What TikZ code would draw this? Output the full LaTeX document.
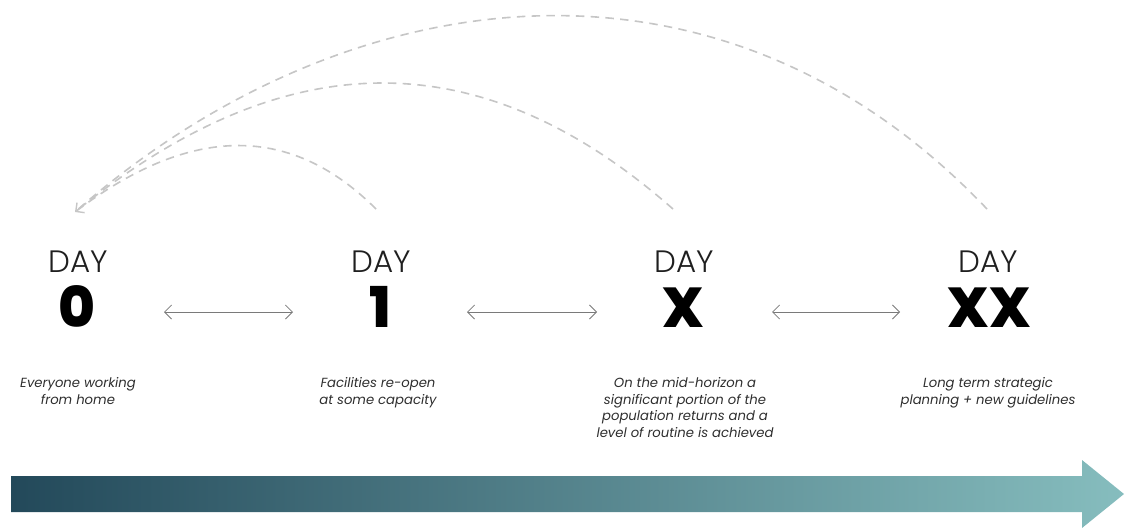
\documentclass[tikz,border=0pt]{standalone}
\usepackage{fontspec}
\setmainfont{Poppins}
\newfontfamily\dayfont{Poppins Light}
\newfontfamily\numfont{Poppins ExtraBold}
\usetikzlibrary{arrows.meta}
\definecolor{arcgray}{HTML}{C6C6C6}
\definecolor{linegray}{HTML}{7A7A7A}
\definecolor{bandL}{HTML}{23495A}
\definecolor{bandR}{HTML}{86BDBE}
\definecolor{desctext}{HTML}{2E2E2E}
\tikzset{
  daylabel/.style={anchor=base, inner sep=0pt, font=\dayfont\fontsize{22}{26}\selectfont, text=black!88},
  daynum/.style={anchor=base, inner sep=0pt, font=\numfont\fontsize{40}{44}\selectfont, text=black},
  desc/.style={anchor=north, inner sep=0pt, align=center, font=\itshape\fontsize{9.4}{11.9}\selectfont, text=desctext},
  returnarc/.style={draw=arcgray, line width=1.15pt, dash pattern=on 6pt off 4.5pt},
  twoway/.style={draw=linegray, line width=0.55pt, {Straight Barb[length=5pt,width=10pt]}-{Straight Barb[length=5pt,width=10pt]}},
}
\begin{document}
\begin{tikzpicture}[x=0.025cm,y=-0.025cm]
\useasboundingbox (0,0) rectangle (1130,527);

% day labels
\node[daylabel] (d0) at (78,272) {DAY};
\node[daylabel] (d1) at (381,272) {DAY};
\node[daylabel] (dx) at (684,272) {DAY};
\node[daylabel] (dxx) at (988,272) {DAY};

\node[daynum] (n0) at (77,327) {0};
\node[daynum] (n1) at (380,327) {1};
\node[daynum] (nx) at (683,327) {X};
\node[daynum] (nxx) at (989,327) {XX};

% descriptions
\node[desc] (t0) at (78,377) {Everyone working\\from home};
\node[desc] (t1) at (378,377) {Facilities re-open\\at some capacity};
\node[desc] (tx) at (685,377) {On the mid-horizon a\\significant portion of the\\population returns and a\\level of routine is achieved};
\node[desc] (txx) at (988,377) {Long term strategic\\planning + new guidelines};

% two-way arrows
\coordinate (a0l) at (164,312); \coordinate (a0r) at (293,312);
\coordinate (a1l) at (467,312); \coordinate (a1r) at (597,312);
\coordinate (a2l) at (772,312); \coordinate (a2r) at (900,312);
\draw[twoway] (a0l) -- (a0r);
\draw[twoway] (a1l) -- (a1r);
\draw[twoway] (a2l) -- (a2r);

% return arcs
\coordinate (tip) at (75,212);
\coordinate (s1) at (376,209);
\coordinate (s2) at (673,209);
\coordinate (s3) at (987,209);
\draw[returnarc] (s3) .. controls (715,-77) and (339,-20) .. (tip);
\draw[returnarc] (s2) .. controls (455,17) and (255,66) .. (tip);
\draw[returnarc, -{Straight Barb[length=4.5pt,width=9pt,line width=1pt]}] (s1) .. controls (280,113) and (176,136) .. (tip);

% timeline band
\shade[left color=bandL, right color=bandR]
  (11,476) -- (1082,476) -- (1082,460) -- (1124,494) -- (1082,528) -- (1082,512) -- (11,512) -- cycle;
\end{tikzpicture}
\end{document}
